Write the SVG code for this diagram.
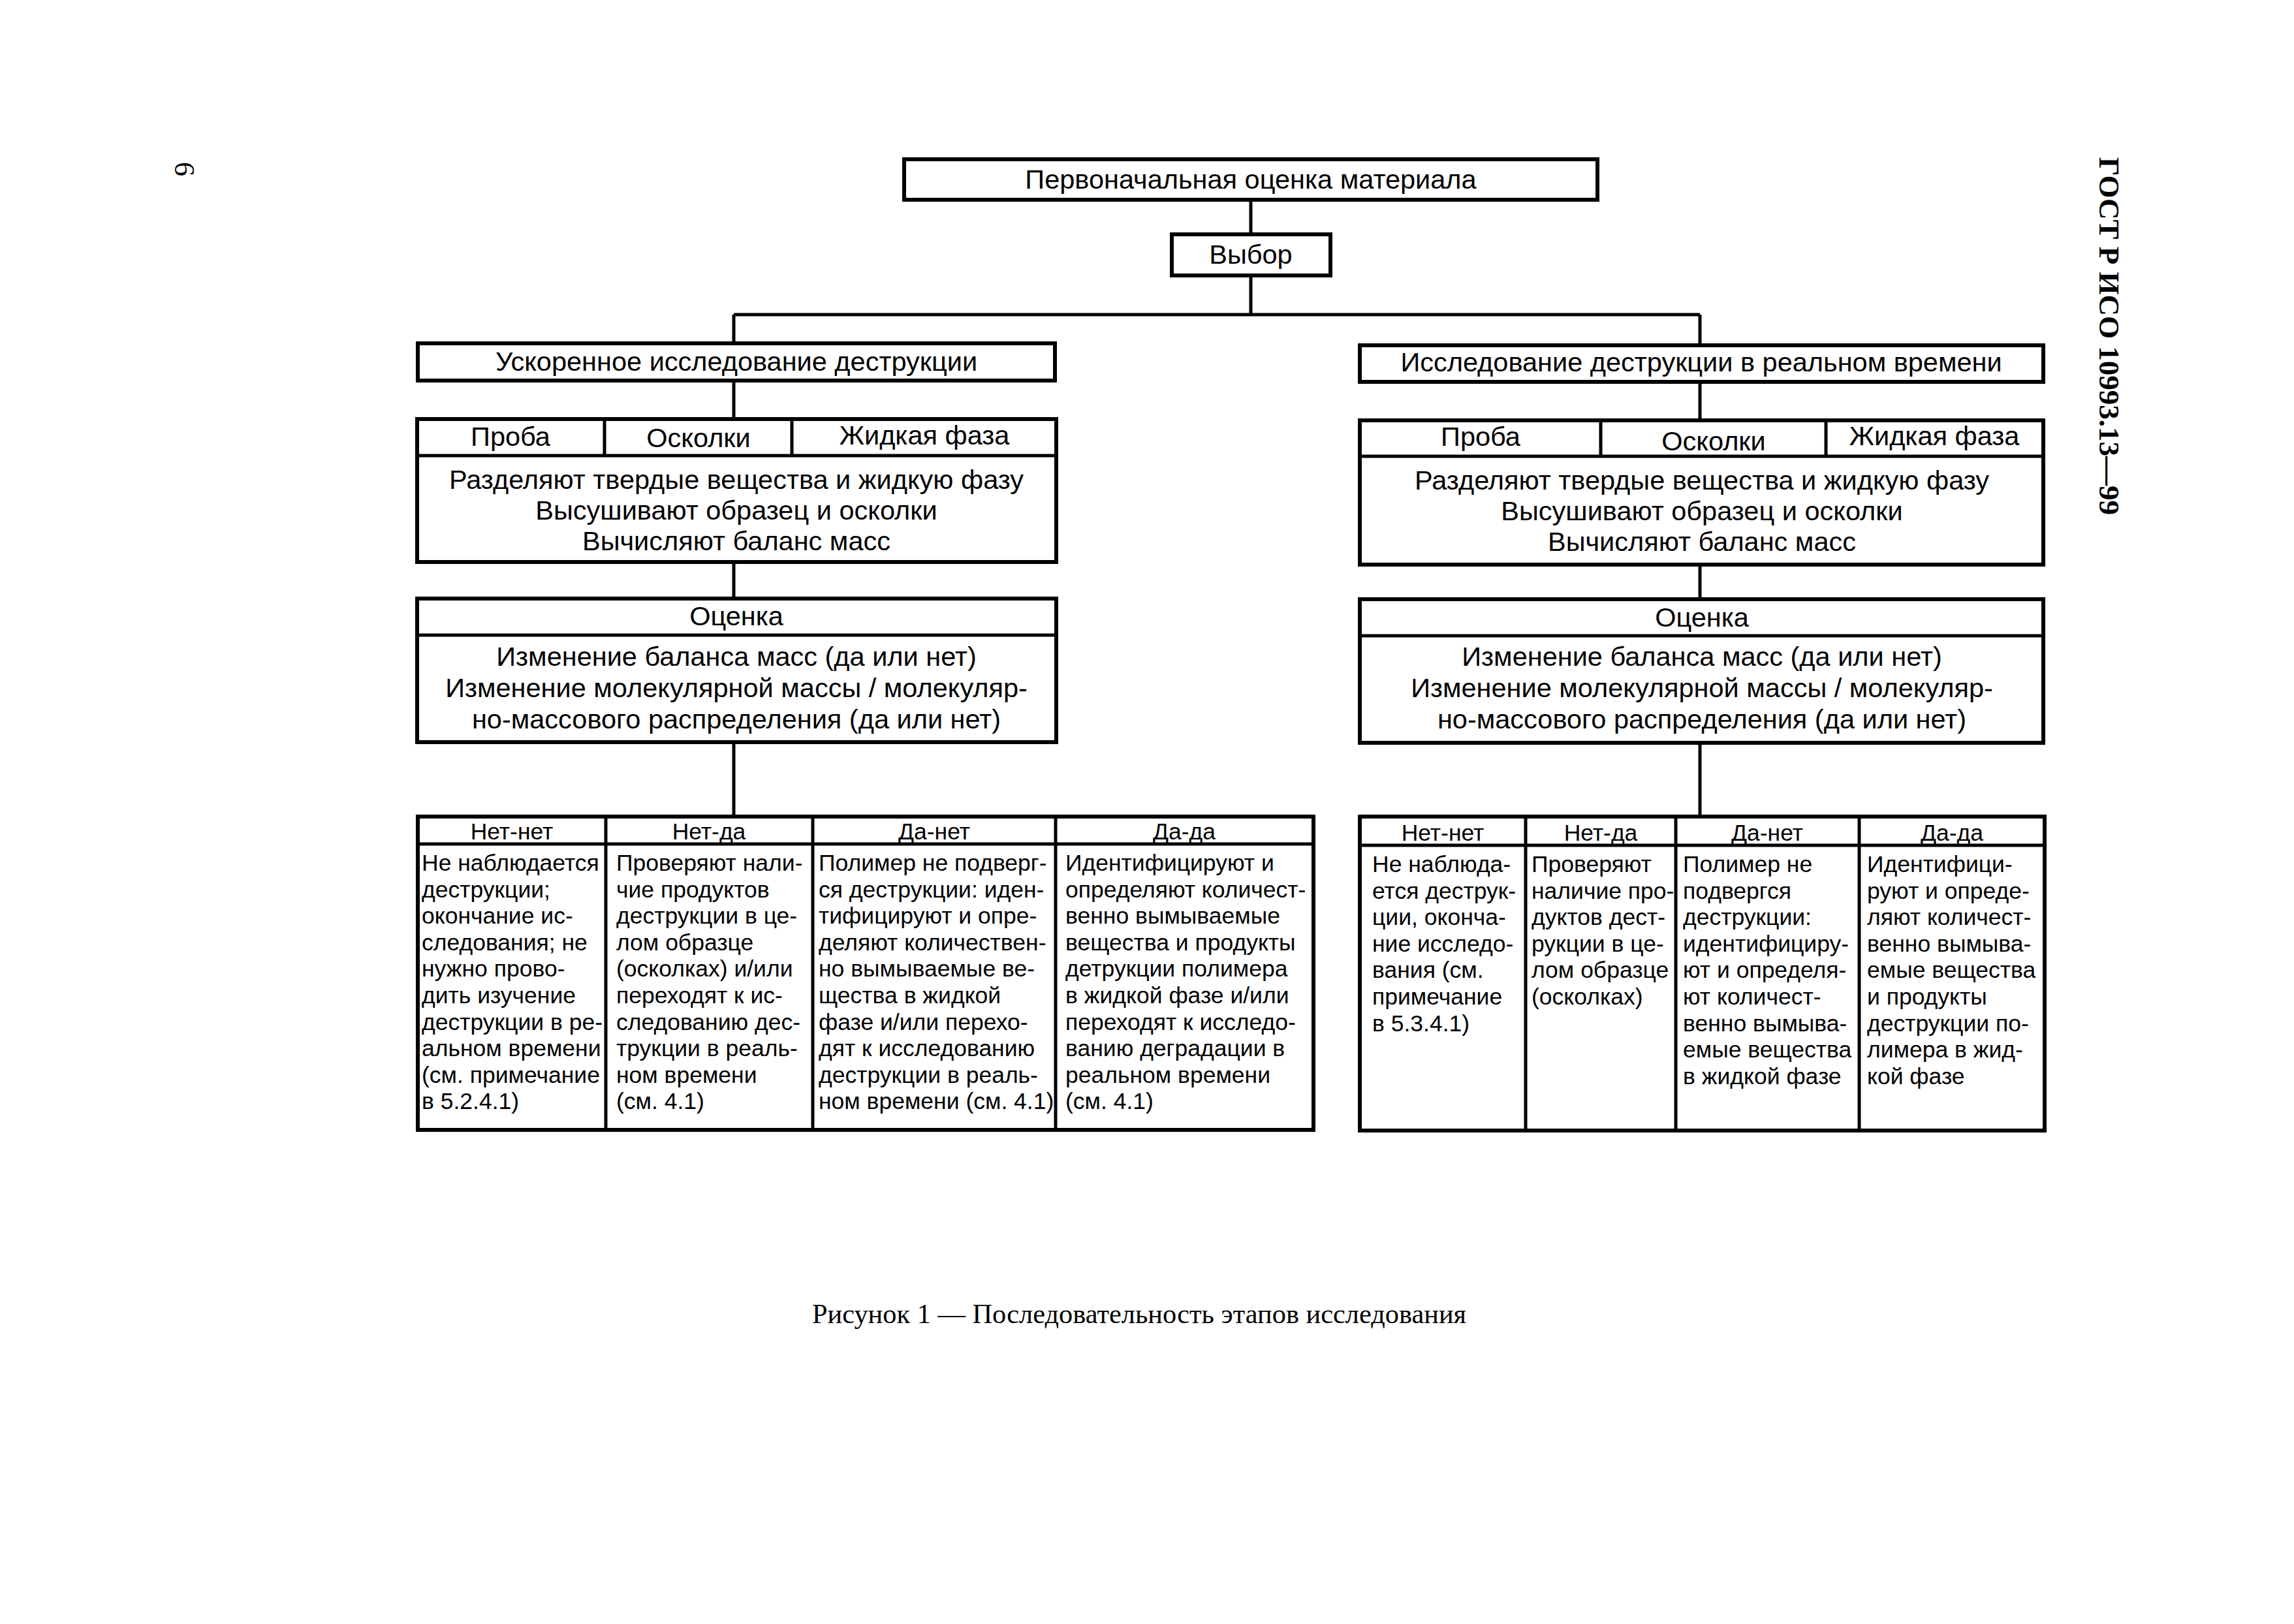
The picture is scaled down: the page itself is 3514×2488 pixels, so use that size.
<svg xmlns="http://www.w3.org/2000/svg" width="3514" height="2488" viewBox="0 0 3514 2488">
<style>
.bg{fill:#fff}
.box{fill:none;stroke:#000;stroke-width:6}
.div{fill:none;stroke:#000;stroke-width:5}
.con{fill:none;stroke:#000;stroke-width:5}
.tx{font-family:"Liberation Sans",Arial,sans-serif;font-size:41.5px;fill:#000;text-anchor:middle}
.hd{font-family:"Liberation Sans",Arial,sans-serif;font-size:35.5px;fill:#000;text-anchor:middle}
.bd{font-family:"Liberation Sans",Arial,sans-serif;font-size:35.5px;fill:#000}
.gost{font-family:"Liberation Serif","Times New Roman",serif;font-size:45px;font-weight:bold;fill:#000}
.cap{font-family:"Liberation Serif","Times New Roman",serif;font-size:42.4px;fill:#000;text-anchor:middle}
.pg{font-family:"Liberation Serif","Times New Roman",serif;font-size:44px;fill:#000}
</style>
<rect class="bg" x="0" y="0" width="3514" height="2488"/>

<g id="connectors">
<path class="con" d="M1916 307 V358"/>
<path class="con" d="M1916 422 V482 M1124 482 H2604 M1124 482 V526 M2604 482 V529"/>
<path class="con" d="M1124 583 V641"/>
<path class="con" d="M1124 861 V917"/>
<path class="con" d="M1124 1137 V1251"/>
<path class="con" d="M2604 585 V643"/>
<path class="con" d="M2604 865 V918"/>
<path class="con" d="M2604 1138 V1251"/>
</g>

<g id="n-initial">
<rect class="box" x="1385" y="244" width="1062" height="62"/>
<text class="tx" x="1916" y="289">Первоначальная оценка материала</text>
</g>

<g id="n-choice">
<rect class="box" x="1795" y="359" width="243" height="63"/>
<text class="tx" x="1916" y="404">Выбор</text>
</g>

<g id="n-accel">
<rect class="box" x="640" y="526" width="976" height="57"/>
<text class="tx" x="1128" y="568">Ускоренное исследование деструкции</text>
</g>

<g id="n-real">
<rect class="box" x="2083" y="529" width="1047" height="56"/>
<text class="tx" x="2606" y="569">Исследование деструкции в реальном времени</text>
</g>

<g id="n-accel-prep">
<rect class="box" x="639" y="642" width="979" height="219"/>
<path class="div" d="M639 698 H1618 M926 642 V698 M1213 642 V698"/>
<text class="tx" x="782" y="683">Проба</text>
<text class="tx" x="1070" y="685">Осколки</text>
<text class="tx" x="1416" y="681">Жидкая фаза</text>
<text class="tx" x="1128" y="749">Разделяют твердые вещества и жидкую фазу</text>
<text class="tx" x="1128" y="796">Высушивают образец и осколки</text>
<text class="tx" x="1128" y="843">Вычисляют баланс масс</text>
</g>

<g id="n-real-prep">
<rect class="box" x="2083" y="644" width="1047" height="221"/>
<path class="div" d="M2083 699 H3130 M2452 644 V699 M2797 644 V699"/>
<text class="tx" x="2268" y="683">Проба</text>
<text class="tx" x="2625" y="690">Осколки</text>
<text class="tx" x="2963" y="682">Жидкая фаза</text>
<text class="tx" x="2607" y="750">Разделяют твердые вещества и жидкую фазу</text>
<text class="tx" x="2607" y="797">Высушивают образец и осколки</text>
<text class="tx" x="2607" y="844">Вычисляют баланс масс</text>
</g>

<g id="n-accel-eval">
<rect class="box" x="639" y="917" width="979" height="220"/>
<path class="div" d="M639 973 H1618"/>
<text class="tx" x="1128" y="958">Оценка</text>
<text class="tx" x="1128" y="1020">Изменение баланса масс (да или нет)</text>
<text class="tx" x="1128" y="1068">Изменение молекулярной массы / молекуляр-</text>
<text class="tx" x="1128" y="1116">но-массового распределения (да или нет)</text>
</g>

<g id="n-real-eval">
<rect class="box" x="2083" y="918" width="1047" height="220"/>
<path class="div" d="M2083 974 H3130"/>
<text class="tx" x="2607" y="960">Оценка</text>
<text class="tx" x="2607" y="1020">Изменение баланса масс (да или нет)</text>
<text class="tx" x="2607" y="1068">Изменение молекулярной массы / молекуляр-</text>
<text class="tx" x="2607" y="1116">но-массового распределения (да или нет)</text>
</g>

<g id="n-accel-results">
<rect class="box" x="640" y="1251" width="1372" height="480"/>
<path class="div" d="M640 1293 H2012 M928 1251 V1731 M1245 1251 V1731 M1617 1251 V1731"/>
<text class="hd" x="784" y="1286">Нет-нет</text>
<text class="hd" x="1086" y="1286">Нет-да</text>
<text class="hd" x="1431" y="1286">Да-нет</text>
<text class="hd" x="1814" y="1286">Да-да</text>
<text class="bd" y="1334"><tspan x="646">Не наблюдается</tspan><tspan x="646" dy="40.6">деструкции;</tspan><tspan x="646" dy="40.6">окончание ис-</tspan><tspan x="646" dy="40.6">следования; не</tspan><tspan x="646" dy="40.6">нужно прово-</tspan><tspan x="646" dy="40.6">дить изучение</tspan><tspan x="646" dy="40.6">деструкции в ре-</tspan><tspan x="646" dy="40.6">альном времени</tspan><tspan x="646" dy="40.6">(см. примечание</tspan><tspan x="646" dy="40.6">в 5.2.4.1)</tspan></text>
<text class="bd" y="1334"><tspan x="944">Проверяют нали-</tspan><tspan x="944" dy="40.6">чие продуктов</tspan><tspan x="944" dy="40.6">деструкции в це-</tspan><tspan x="944" dy="40.6">лом образце</tspan><tspan x="944" dy="40.6">(осколках) и/или</tspan><tspan x="944" dy="40.6">переходят к ис-</tspan><tspan x="944" dy="40.6">следованию дес-</tspan><tspan x="944" dy="40.6">трукции в реаль-</tspan><tspan x="944" dy="40.6">ном времени</tspan><tspan x="944" dy="40.6">(см. 4.1)</tspan></text>
<text class="bd" y="1334"><tspan x="1254">Полимер не подверг-</tspan><tspan x="1254" dy="40.6">ся деструкции: иден-</tspan><tspan x="1254" dy="40.6">тифицируют и опре-</tspan><tspan x="1254" dy="40.6">деляют количествен-</tspan><tspan x="1254" dy="40.6">но вымываемые ве-</tspan><tspan x="1254" dy="40.6">щества в жидкой</tspan><tspan x="1254" dy="40.6">фазе и/или перехо-</tspan><tspan x="1254" dy="40.6">дят к исследованию</tspan><tspan x="1254" dy="40.6">деструкции в реаль-</tspan><tspan x="1254" dy="40.6">ном времени (см. 4.1)</tspan></text>
<text class="bd" y="1334"><tspan x="1632">Идентифицируют и</tspan><tspan x="1632" dy="40.6">определяют количест-</tspan><tspan x="1632" dy="40.6">венно вымываемые</tspan><tspan x="1632" dy="40.6">вещества и продукты</tspan><tspan x="1632" dy="40.6">детрукции полимера</tspan><tspan x="1632" dy="40.6">в жидкой фазе и/или</tspan><tspan x="1632" dy="40.6">переходят к исследо-</tspan><tspan x="1632" dy="40.6">ванию деградации в</tspan><tspan x="1632" dy="40.6">реальном времени</tspan><tspan x="1632" dy="40.6">(см. 4.1)</tspan></text>
</g>

<g id="n-real-results">
<rect class="box" x="2083" y="1251" width="1049" height="481"/>
<path class="div" d="M2083 1295 H3132 M2337 1251 V1732 M2567 1251 V1732 M2848 1251 V1732"/>
<text class="hd" x="2210" y="1288">Нет-нет</text>
<text class="hd" x="2452" y="1288">Нет-да</text>
<text class="hd" x="2707" y="1288">Да-нет</text>
<text class="hd" x="2990" y="1288">Да-да</text>
<text class="bd" y="1336"><tspan x="2102">Не наблюда-</tspan><tspan x="2102" dy="40.6">ется деструк-</tspan><tspan x="2102" dy="40.6">ции, оконча-</tspan><tspan x="2102" dy="40.6">ние исследо-</tspan><tspan x="2102" dy="40.6">вания (см.</tspan><tspan x="2102" dy="40.6">примечание</tspan><tspan x="2102" dy="40.6">в 5.3.4.1)</tspan></text>
<text class="bd" y="1336"><tspan x="2346">Проверяют</tspan><tspan x="2346" dy="40.6">наличие про-</tspan><tspan x="2346" dy="40.6">дуктов дест-</tspan><tspan x="2346" dy="40.6">рукции в це-</tspan><tspan x="2346" dy="40.6">лом образце</tspan><tspan x="2346" dy="40.6">(осколках)</tspan></text>
<text class="bd" y="1336"><tspan x="2578">Полимер не</tspan><tspan x="2578" dy="40.6">подвергся</tspan><tspan x="2578" dy="40.6">деструкции:</tspan><tspan x="2578" dy="40.6">идентифициру-</tspan><tspan x="2578" dy="40.6">ют и определя-</tspan><tspan x="2578" dy="40.6">ют количест-</tspan><tspan x="2578" dy="40.6">венно вымыва-</tspan><tspan x="2578" dy="40.6">емые вещества</tspan><tspan x="2578" dy="40.6">в жидкой фазе</tspan></text>
<text class="bd" y="1336"><tspan x="2860">Идентифици-</tspan><tspan x="2860" dy="40.6">руют и опреде-</tspan><tspan x="2860" dy="40.6">ляют количест-</tspan><tspan x="2860" dy="40.6">венно вымыва-</tspan><tspan x="2860" dy="40.6">емые вещества</tspan><tspan x="2860" dy="40.6">и продукты</tspan><tspan x="2860" dy="40.6">деструкции по-</tspan><tspan x="2860" dy="40.6">лимера в жид-</tspan><tspan x="2860" dy="40.6">кой фазе</tspan></text>
</g>

<text class="gost" transform="translate(3216 241) rotate(90)">ГОСТ Р ИСО 10993.13—99</text>
<text class="pg" transform="translate(268 248) rotate(90)">6</text>
<text class="cap" x="1745" y="2027">Рисунок 1 — Последовательность этапов исследования</text>
</svg>
